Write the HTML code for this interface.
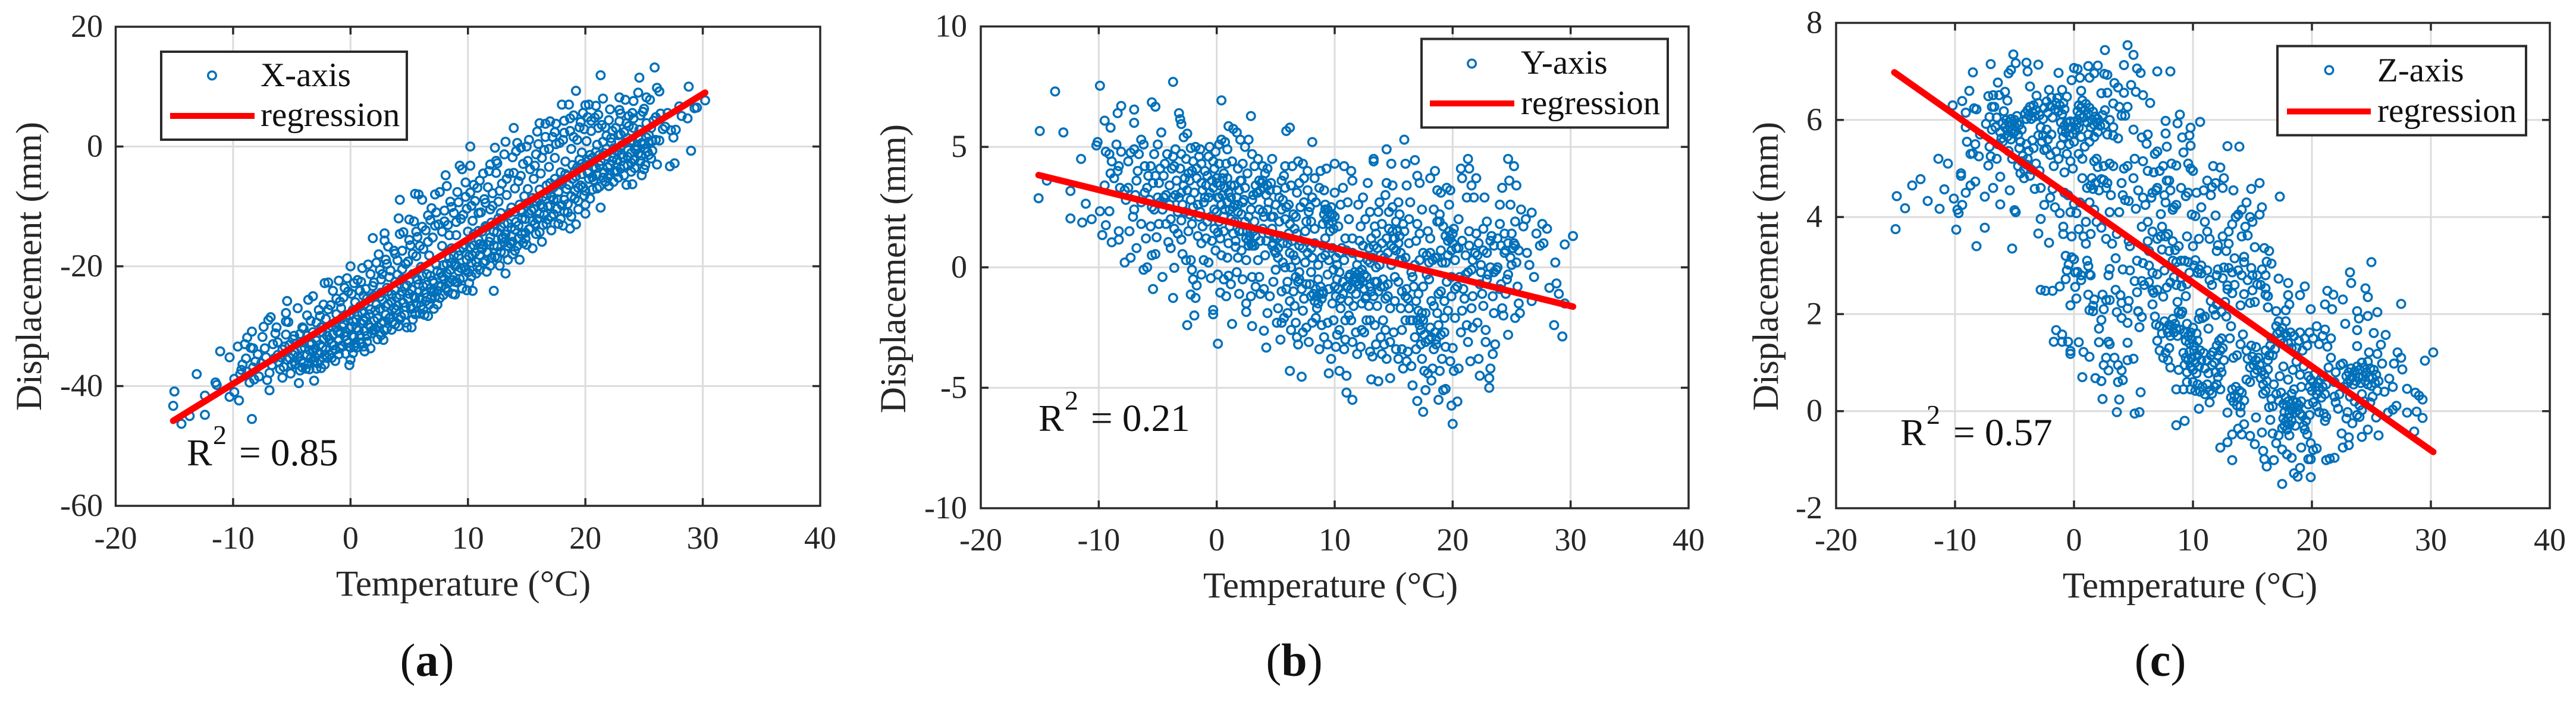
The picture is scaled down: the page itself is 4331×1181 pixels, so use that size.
<!DOCTYPE html>
<html lang="en">
<head>
<meta charset="utf-8">
<title>Displacement vs temperature</title>
<style>
html,body{margin:0;padding:0;background:#fff}
svg{display:block}
text{font-family:"Liberation Serif","Times New Roman",serif;fill:#262626}
</style>
</head>
<body>
<svg id="figure" xmlns="http://www.w3.org/2000/svg" width="4331" height="1181" viewBox="0 0 4331 1181"></svg>
<script>
const xTicks = [-20,-10,0,10,20,30,40];
const yTicksA = [-60,-40,-20,0,20];
const yTicksB = [-10,-5,0,5,10];
const yTicksC = [-2,0,2,4,6,8];
const regressionA = [[-15.1,-45.8],[30.2,9]];
const regressionB = [[-15.1,3.83],[30.2,-1.63]];
const regressionC = [[-15.1,6.98],[30.2,-0.84]];
const pointsA = [[-15,-40.9],[-15.1,-43.3],[-14.4,-46.3],[-13.7,-45],[-13.1,-38],[-12.4,-44.8],[-12.4,-41.6],[-11.5,-39.4],[-11.4,-39.8],[-11.1,-34.2],[-10.3,-35.2],[-10.3,-41.8],[-9.9,-41],[-9.5,-42.4],[-8.4,-45.5],[-9.6,-33.4],[-9.9,-38.8],[-9.4,-38],[-9.2,-36.4],[-9,-33],[-8.8,-31.9],[-8.9,-35.4],[-8.5,-33.6],[-8.4,-30.9],[-8.3,-33.7],[-8.6,-39.4],[-8.2,-38.9],[-8.3,-36.9],[-7.8,-38.4],[-7.9,-34.7],[-7.5,-31.8],[-7.4,-30.1],[-7.3,-33.7],[-7.1,-39],[-6.9,-40.7],[-7,-29],[-6.8,-28.5],[-6.7,-36.5],[-6.6,-33],[-6.4,-31.2],[-6.3,-30.2],[-6.2,-34.8],[-6,-37.2],[-5.8,-38.6],[-5.6,-33.4],[-5.5,-29.2],[-5.4,-25.8],[-5.5,-27.8],[-5.3,-29.3],[-5.2,-35.3],[-5.1,-37.9],[-4.9,-32.2],[-4.8,-35.9],[-4.7,-36.4],[-4.5,-27],[-4.4,-39.5],[-4.3,-31.3],[-4.2,-33.7],[-4.1,-36.9],[-4,-30.4],[-3.8,-37.1],[-3.7,-28.2],[-3.6,-25.6],[-3.5,-34],[-3.4,-35.4],[-3.3,-32.9],[-3.2,-25],[-3.1,-39.1],[-3.1,-35.9],[-3,-33.7],[-2.9,-29.4],[-2.8,-36.2],[-2.7,-27.3],[-2.6,-33.1],[-2.5,-37],[-2.4,-31],[-2.3,-26.4],[-2.2,-22.8],[-2.2,-34.8],[-2.1,-28.8],[-2,-35.3],[-1.9,-22.7],[-1.8,-32.2],[-1.7,-26.5],[-1.6,-30],[-1.5,-24.1],[-1.4,-33.2],[-1.3,-35.8],[-1.2,-28],[-1.1,-30.9],[-1,-22.4],[-0.9,-33.7],[-0.8,-27],[-0.7,-30.1],[-0.6,-25.2],[-0.5,-31.7],[-0.4,-28.3],[-0.3,-22],[-0.2,-32.8],[-0.1,-36.5],[0,-35.6],[0,-20],[0.1,-24.6],[0.1,-30.1],[0.2,-27.3],[0.3,-31.8],[0.3,-33.4],[0.4,-26],[0.5,-28.9],[0.6,-22.3],[0.7,-30.7],[0.8,-24.1],[0.9,-32.7],[1,-20.3],[1.1,-29.1],[1.2,-34.2],[1.2,-26.3],[1.3,-23.8],[1.4,-31.6],[1.5,-19.7],[1.6,-28],[1.7,-33.7],[1.8,-25.2],[1.9,-15.3],[1.9,-30.7],[2,-22.7],[2.1,-27.4],[2.2,-19.4],[2.3,-32.2],[2.4,-18],[2.5,-25.1],[2.6,-29.5],[2.7,-21.3],[2.8,-32.3],[2.9,-14.5],[2.9,-15.7],[3,-18.9],[3,-26.7],[3.1,-23.6],[3.2,-16.7],[3.3,-28.7],[3.4,-20.7],[3.5,-25.9],[3.6,-29.3],[3.7,-17.4],[3.8,-22.6],[3.9,-27.3],[4,-19],[4.1,-12],[4.2,-8.9],[4.2,-14.6],[4.2,-24.8],[4.3,-28.4],[4.4,-20.5],[4.5,-14.3],[4.6,-23.4],[4.7,-26.8],[4.8,-30.2],[4.9,-19.2],[5,-12.2],[5,-24.6],[5.1,-16.5],[5.2,-30.2],[5.2,-27.1],[5.3,-21.3],[5.4,-12.5],[5.5,-7.9],[5.5,-25.3],[5.6,-18.3],[5.7,-15.1],[5.8,-8],[5.8,-23],[5.9,-27.9],[6,-20.1],[6.1,-8.9],[6.2,-17.1],[6.3,-28.1],[6.3,-24.5],[6.4,-14],[6.5,-21.3],[6.6,-28.3],[6.6,-11.5],[6.7,-18.2],[6.8,-25.4],[6.9,-10.3],[7,-22.4],[7,-15.2],[7.1,-27.1],[7.2,-8],[7.3,-19.7],[7.4,-24.1],[7.5,-13],[7.6,-7.6],[7.7,-21.1],[7.8,-16.6],[7.9,-24.8],[8,-10.7],[8.1,-4.8],[8.2,-6.6],[8.2,-19.6],[8.3,-13.1],[8.4,-22.7],[8.5,-9.2],[8.6,-17],[8.7,-24.6],[8.8,-11.1],[8.9,-24.7],[8.9,-20],[9,-14.8],[9.1,-7.6],[9.2,-18.2],[9.3,-3.2],[9.3,-22.1],[9.4,-12.1],[9.5,-3.8],[9.6,-16.9],[9.7,-20.2],[9.8,-6],[9.9,-24],[9.9,-10.4],[10,-14.2],[10.1,-18.3],[10.2,-3.2],[10.2,0],[10.2,-7.7],[10.3,-21.7],[10.4,-24.1],[10.4,-12.4],[10.5,-16.5],[10.6,-9.1],[10.7,-19.3],[10.8,-6.9],[10.9,-14.1],[11,-20.6],[11.1,-11],[11.2,-17.1],[11.3,-4.5],[11.4,-8.8],[11.5,-13.3],[11.6,-20.9],[11.7,-6.8],[11.8,-15.9],[11.9,-3],[11.9,-10.5],[12,-18.6],[12.1,-7.8],[12.2,-24.1],[12.3,-0.2],[12.3,-13],[12.4,-4.4],[12.5,-2.8],[12.5,-16.7],[12.6,-9.2],[12.7,-19.9],[12.8,-11.1],[12.9,-6.2],[13,-15.1],[13.1,-17.8],[13.2,0.8],[13.2,-21.2],[13.3,-8.1],[13.4,-12.8],[13.5,-4.5],[13.6,-16.2],[13.7,-10.2],[13.8,-18],[13.9,3.1],[14,-7],[14,-13.9],[14.1,-0.8],[14.2,0.6],[14.2,-16.6],[14.3,-5.8],[14.4,-18.9],[14.5,-10.6],[14.6,-14.7],[14.7,-2.9],[14.8,-8.3],[14.9,-12.1],[15,0],[15,-16.4],[15.1,-7.1],[15.2,-13.8],[15.3,-3.8],[15.4,-10.7],[15.5,-17],[15.6,-5.4],[15.7,-12.9],[15.8,-1.3],[15.9,2.5],[16,-8.8],[16.1,3.9],[16.1,-14.3],[16.2,-4.5],[16.3,-15.9],[16.4,-10.2],[16.5,-0.6],[16.6,3.8],[16.7,-6.5],[16.8,-12.2],[16.9,-3.4],[17,4.2],[17.1,-14],[17.1,-8.4],[17.2,1.6],[17.3,-11.3],[17.4,-1.9],[17.5,3.8],[17.6,-6.3],[17.7,-12.9],[17.8,0.6],[17.9,-4.3],[18,7],[18,-9.8],[18.1,-13.2],[18.2,2.3],[18.3,-2.5],[18.4,-7.1],[18.5,-11],[18.6,7],[18.7,-13.7],[18.7,4.7],[18.8,-0.4],[18.9,-5.4],[19,1.6],[19.1,-8.7],[19.2,9.3],[19.2,-13],[19.3,-3.5],[19.4,-10.5],[19.5,3.2],[19.6,-6.5],[19.7,-1],[19.8,5.6],[19.9,-8.2],[20,6.9],[20,-11.2],[20.1,0.9],[20.2,-4.4],[20.3,7],[20.4,-8.7],[20.5,2.6],[20.6,-1.9],[20.7,-5.6],[20.8,4.8],[20.9,6.8],[21,-7],[21,0.3],[21.2,-3.1],[21.3,11.9],[21.3,-10.2],[21.4,3.6],[21.5,8],[21.6,-1.1],[21.7,-5.9],[21.8,1.8],[21.9,-3.5],[22,-6.6],[22.1,6.2],[22.2,0.7],[22.3,-2.4],[22.4,-5.9],[22.6,3.1],[22.7,-0.8],[22.8,1.9],[22.9,8.2],[23,-3.7],[23,5.5],[23.1,0.2],[23.2,-1.8],[23.3,2.4],[23.4,7.8],[23.5,-6.4],[23.6,-3.2],[23.7,5.1],[23.8,0.7],[23.9,-1.1],[24,-6.3],[24.1,7.6],[24.1,3.1],[24.2,-3.6],[24.3,-0.6],[24.5,9],[24.5,1.4],[24.6,11.5],[24.7,-2.4],[24.8,-4.8],[24.9,5.8],[25,0.4],[25.1,-3.1],[25.2,8.2],[25.2,3.9],[25.3,-0.9],[25.4,1.9],[25.5,7.8],[25.6,-2],[25.7,0.9],[25.8,4.3],[25.9,13.2],[26,1.1],[26.1,-3],[26.1,9.8],[26.3,9.2],[26.3,1],[26.4,5.5],[26.6,2.9],[26.8,3.3],[27,5.6],[27.2,-3.3],[27.3,2.7],[27.5,1.5],[27.6,-2.8],[27.7,2.8],[28,6.7],[28.2,5.1],[28.7,4.7],[28.8,10],[29,-0.7],[29.3,6.4],[29.5,6.5],[30.2,7.7],
[-6.1,-36],[-5.9,-35.2],[-5.7,-36.8],[-5.4,-35.6],[-5,-36.4],[-4.7,-34.4],[-4.5,-35.1],[-4.2,-35.8],[-4,-36.2],[-3.9,-33.6],[-3.7,-34.8],[-3.6,-36.3],[-3.4,-33.1],[-3.2,-34.3],[-3,-35.2],[-2.9,-32.4],[-2.7,-34.6],[-2.6,-35.7],[-2.4,-33.5],[-2.3,-32.2],[-2.1,-33.9],[-2,-31.6],[-1.8,-34.7],[-1.6,-32.9],[-1.5,-31.4],[-1.3,-33.9],[-1.2,-30.2],[-1,-32.4],[-0.9,-31.1],[-0.7,-33.2],[-0.6,-29.6],[-0.4,-31],[-0.3,-32.3],[-0.1,-30.3],[0,-33.6],[0.1,-31.6],[0.2,-29.2],[0.4,-32.8],[0.5,-30.3],[0.6,-28.1],[0.8,-31.6],[0.9,-29.5],[1,-27.8],[1.2,-30.8],[1.3,-28.6],[1.4,-32.6],[1.5,-29.7],[1.7,-27.2],[1.8,-31.2],[2,-29.1],[2.1,-30.6],[2.2,-26.4],[2.3,-28.7],[2.5,-27.1],[2.6,-31.5],[2.7,-25.6],[2.8,-29.2],[3,-28.1],[3.1,-30.4],[3.2,-26.3],[3.4,-28.5],[3.5,-24.7],[3.7,-27],[3.8,-29.7],[3.9,-25.2],[4,-26.6],[4.2,-28.9],[4.4,-24.2],[4.5,-26.1],[4.6,-28.1],[4.8,-23.2],[4.9,-25.4],[5.1,-26.7],[5.2,-23.9],[5.4,-25],[5.5,-28],[5.7,-22.2],[5.8,-24.3],[6,-26.6],[6.1,-21.6],[6.2,-23.4],[6.4,-25.8],[6.5,-23.1],[6.7,-26.4],[6.8,-21.6],[6.9,-24.2],[7.1,-22.8],[7.2,-25.1],[7.4,-20.8],[7.5,-23.3],[7.6,-25.3],[7.8,-21.7],[7.9,-19.8],[8.1,-23.6],[8.2,-21.2],[8.4,-18.6],[8.5,-20.6],[8.7,-22.3],[8.8,-18.2],[9,-19.8],[9.1,-22.7],[9.3,-17.4],[9.4,-20.3],[9.6,-21.9],[9.7,-16.4],[9.9,-18.9],[10,-21],[10.2,-16.8],[10.3,-19.4],[10.5,-14.6],[10.6,-17.7],[10.8,-20.1],[10.9,-15.6],[11,-18.1],[11.2,-14.2],[11.3,-16.4],[11.5,-19.1],[11.6,-13.4],[11.7,-17.7],[11.9,-15.2],[12,-12.7],[12.2,-16.5],[12.3,-18.4],[12.5,-14.3],[12.6,-12],[12.8,-17.6],[12.9,-15.4],[13.1,-12.9],[13.2,-14.7],[13.4,-16.6],[13.5,-11.1],[13.7,-13.5],[13.8,-15.9],[14,-10.9],[14.1,-12.6],[14.3,-15.4],[14.4,-9.7],[14.6,-12.1],[14.7,-16.1],[14.9,-14.4],[15,-9.5],[15.2,-11.2],[15.3,-13.7],[15.5,-8.6],[15.6,-10.4],[15.8,-14.6],[15.9,-12.1],[16.1,-7.2],[16.2,-9.7],[16.4,-13.1],[16.5,-11.4],[16.7,-7.9],[16.8,-10],[17,-6.1],[17.1,-11.7],[17.3,-8.9],[17.4,-5.4],[17.6,-10.4],[17.7,-7.6],[17.9,-12.1],[18,-6.2],[18.2,-8.9],[18.3,-4.6],[18.5,-9.6],[18.6,-6.4],[18.8,-11.7],[18.9,-3.1],[19.1,-7.4],[19.2,-5],[19.4,-9.1],[19.5,-2.2],[19.7,-4.6],[19.8,-6.8],[20,-9.7],[20.1,-3.1],[20.3,-5.4],[20.4,-1.4],[20.6,-7.2],[20.7,-3.4],[20.9,-0.9],[21,-4.8],[21.2,-6.7],[21.3,-2.4],[21.5,0.8],[21.6,-4.4],[21.8,-1.6],[21.9,-5.2],[22.1,-3.1],[22.2,1.4],[22.4,-0.3],[22.5,-4.1],[22.7,-2.2],[22.8,-5.2],[23,2],[23.1,-1.3],[23.3,-3.2],[23.4,0.6],[23.6,-1.7],[23.7,3.4],[23.9,-4.2],[24,1],[24.2,-2.1],[24.4,0.1],[24.6,2.8],[24.8,-1.5],[25,-3.8],[25.2,1.5],[25.4,-1.4],[25.6,3.1],[-4.8,-31.6],[-4.1,-30.2],[-3.4,-29.1],[-2.6,-28.3],[-1.9,-27.2],[-0.9,-25.9],[-0.2,-24.2],[0.9,-22.6],[1.7,-21.3],[2.5,-20.6],[3.1,-19.6],[3.8,-17.9],[4.4,-17.4],[5,-15.6],[5.6,-14.2],[6.1,-13.4],[6.8,-12.3],[7.3,-11],[8,-12.5],[8.6,-10.1],[9.2,-9.3],[9.8,-8.4],[10.5,-6.4],[11,-5.7],[11.8,-4.1],[12.4,-2.4],[13.1,-1.3],[13.8,-1.8],[14.5,-0.2],[15.2,1.1],[16,0.4],[16.6,1.6],[17.4,2.4],[18.2,4.3],[19,5.2],[19.6,4.1],[20.2,4.9],[21.1,5.3],[22,4.4],[22.9,6.1],[24,5.6],[25,6.3],[26,4.9],
[-9.3,-37.3],[-8.8,-37.6],[-8.1,-35.9],[-7.6,-36.2],[-7.2,-35.2],[-6.9,-37.8],[-6.5,-35.4],[-6.2,-32.7],[-5.8,-33.9],[-5.5,-31.4],[-5.2,-33.1],[-4.9,-34.8],[-4.6,-32.9],[-4.3,-37.4],[-4,-32.7],[-3.7,-31.6],[-3.5,-37.2],[-3.2,-31],[-2.9,-37.1],[-2.5,-30.2],[-2.2,-36.4],[-1.9,-30.3],[-1.6,-35.3],[-1.3,-29.4],[-1,-34.7],[-0.7,-28.6],[-0.4,-34.6],[-0.1,-28.2],[0.2,-34.5],[0.5,-33.6],[0.8,-26.7],[1.1,-33.4],[1.4,-25.4],[1.7,-30.2],[2,-24.9],[2.3,-30.1],[2.6,-24.4],[2.9,-30.7],[3.2,-24.2],[3.5,-30.6],[3.8,-24],[4.1,-30],[4.4,-22.1],[4.7,-29.4],[5,-22.4],[5.3,-28.9],[5.6,-26.2],[5.9,-25.3],[6.2,-27.2],[6.5,-25.2],[6.8,-23.7],[7.1,-24.3],[7.4,-26.4],[7.7,-23.4],[8,-22.1],[8.3,-24.2],[8.6,-19.4],[8.9,-22.6],[9.2,-20.8],[9.5,-23.7],[9.8,-20.6],[10.1,-22.8],[10.4,-18.2],[10.7,-21.2],[11,-16.3],[11.3,-19.4],[11.6,-17.6],[11.9,-19.9],[12.2,-14.2],[12.5,-18.6],[12.8,-13.4],[13.1,-16],[13.4,-18.9],[13.7,-15],[14,-17.4],[14.3,-13.2],[14.6,-11],[14.9,-15.4],[15.2,-9.6],[15.5,-12.4],[15.8,-9.2],[16.1,-11.2],[16.4,-8.4],[16.7,-12.9],[17,-9.9],[17.3,-6.8],[17.6,-8.8],[17.9,-5.8],[18.2,-10.8],[18.5,-4.9],[18.8,-8.3],[19.1,-4.1],[19.4,-6.9],[19.7,-2.9],[20,-7.4],[20.3,-2.2],[20.6,-5.1],[20.9,-3.6],[21.2,-1.4],[21.5,-5.2],[21.8,-0.4],[22.1,-4.6],[22.4,-1.8],[22.7,-4.2],[23,-0.2],[23.3,-4.8],[23.6,1.4],[23.9,-2.7],[24.2,-0.4],[24.5,-1.2],[24.8,0.6],[25.1,-0.3],[25.4,0.8],[25.7,-0.7],[-1.2,-25.4],[-0.5,-23.6],[0.3,-22.8],[1.1,-24.9],[1.9,-23.3],[2.6,-22.2],[3.3,-21.8],[4,-21.4],[4.7,-19.6],[5.3,-17.9],[5.9,-16.6],[6.6,-15.9],[7.2,-13.2],[7.8,-14.2],[8.4,-14.8],[9,-12.6],[9.6,-11.4],[10.3,-9.9],[10.9,-11.1],[11.5,-9.4],[12.1,-9.9],[12.7,-7.4],[13.3,-5.4],[13.9,-4.4],[14.5,-4.9],[15.1,-2.4],[15.7,-3.2],[16.3,-1.9],[16.9,-0.4],[17.5,0.4],[18.1,1.1],[18.7,2.6],[19.3,1.1],[19.9,2.9],[20.5,4.3],[21.1,3.1],[21.7,3.2],[22.3,2.6],[22.9,4.2],[23.5,3.9],[24.1,4.7],[24.7,5.2]];
const pointsB = [[-15,5.66],[-15.1,2.87],[-13.7,7.3],[-13,5.6],[-14.4,3.6],[-12.4,3.17],[-12.4,2.03],[-11.5,4.5],[-11.4,1.86],[-11.1,2.64],[-10.6,2],[-9.9,7.54],[-9.5,6.09],[-9,5.8],[-10.2,5.06],[-10.1,5.2],[-9.9,2.33],[-9.1,2.33],[-9.4,1.75],[-9.7,1.34],[-8.9,1.04],[-8.3,1.5],[-8.3,1.15],[-8.4,6.4],[-8.1,6.7],[-7,6.55],[-7,6],[-9.4,4.8],[-9.1,4.7],[-8.9,4.4],[-8.7,3.7],[-8.5,5.1],[-8.3,4.2],[-8.4,4],[-9,3.9],[-9.5,3.4],[-8.1,4.8],[-7.8,3.2],[-7.5,3.3],[-7.7,2.8],[-7.3,4.76],[-7,2.4],[-7.1,2.1],[-6.9,3],[-6.8,0.8],[-6.7,4],[-7.4,1.5],[-7.3,0.4],[-7.8,0.2],[-6.6,4.7],[-6.4,5.3],[-6.4,1.8],[-6.2,5.1],[-6.1,4.2],[-6,1.2],[-6.2,-0.1],[-5.9,0],[-5.9,3.3],[-5.7,2.8],[-5.6,4.2],[-5.6,1.7],[-5.5,2.5],[-5.5,0.5],[-5.4,-0.9],[-5.5,6.85],[-5.2,6.67],[-5.3,4.7],[-5.2,0.55],[-5.2,3.8],[-5.1,1.25],[-5,5.1],[-5,2.9],[-4.9,3.5],[-4.9,1.8],[-4.8,4.1],[-4.7,5.6],[-4.6,2.4],[-4.6,-0.4],[-4.5,3.8],[-4.3,1.8],[-4.2,4.7],[-4.1,1.05],[-4,3.4],[-3.9,0.8],[-3.7,7.7],[-3.7,4.6],[-3.7,2.9],[-3.7,-1.27],[-3.6,1.6],[-3.6,-0.02],[-3.5,4.9],[-3.4,3.6],[-3.3,2.3],[-3.2,6.4],[-3.1,6.15],[-3,5.95],[-3,4.7],[-3,3.1],[-3,1.95],[-3,1.15],[-2.9,0.55],[-2.8,5.4],[-2.7,3.7],[-2.7,2.3],[-2.6,0.3],[-2.5,5.55],[-2.4,3.9],[-2.4,1.5],[-2.5,-2.4],[-2.2,4.95],[-2.2,2.8],[-2.2,0.3],[-2.2,-1.13],[-2.1,4],[-2,2.5],[-2,-0.5],[-1.9,-2],[-1.8,5],[-1.8,-1.27],[-1.7,-0.75],[-1.7,3.7],[-1.6,1.3],[-1.5,4.6],[-1.5,2.1],[-1.4,4.9],[-1.3,1],[-1.2,3.2],[-1.1,0.3],[-1.1,2.7],[-1,4],[-0.9,3.4],[-0.8,1.9],[-0.7,2.9],[-0.6,5],[-0.5,-0.45],[-0.4,3.6],[-0.4,1.1],[-0.3,4.4],[-0.3,-1.77],[-0.3,-1.95],[-0.2,2.4],[-0.1,0.7],[0,3.5],[0.1,-0.3],[0.1,1.45],[0.1,-3.17],[0.2,4.3],[0.2,5.1],[0.2,2.9],[0.3,-1.05],[0.4,6.93],[0.4,5.3],[0.4,0.5],[0.5,3.7],[0.6,-0.5],[0.7,5.2],[0.7,2.4],[0.8,4.3],[0.9,3.7],[1,5.86],[1,1],[1,-0.35],[1.2,3.4],[1.2,-0.7],[1.3,-2.35],[1.4,5.75],[1.4,1.4],[1.5,2.6],[1.6,0.85],[1.7,5.6],[1.8,4.1],[1.8,2.3],[1.8,0.4],[1.9,-1.1],[2,5.3],[2,3.6],[2.2,1.5],[2.3,2.8],[2.4,5],[2.5,0.3],[2.5,-1.5],[2.5,-1.85],[2.6,3.9],[2.7,1.1],[2.7,5.3],[2.9,6.28],[2.9,2.4],[3,0.9],[3,-2.44],[3,-0.4],[3.2,4.2],[3.2,1.9],[3.3,-0.8],[3.4,3.1],[3.5,0.3],[3.5,4.5],[3.7,1.1],[3.7,-1.1],[3.8,3.5],[4,2.1],[4,-2.63],[4,-0.9],[4.1,0.5],[4.2,-3.33],[4.2,3],[4.3,4.1],[4.4,1.4],[4.5,-1.2],[4.6,3.5],[4.7,4.5],[4.7,0.9],[4.8,2.1],[5,-0.1],[5,2.6],[5.1,-2.3],[5.2,-1.7],[5.2,0.4],[5.4,-3],[5.4,1.3],[5.5,3.6],[5.5,-1],[5.7,-2.1],[5.8,4.2],[5.8,3.3],[5.8,0],[5.9,5.66],[6,1],[6,-0.6],[6.1,2.6],[6.2,5.8],[6.2,-4.3],[6.2,-1.4],[6.3,-2.6],[6.4,4.2],[6.5,0.5],[6.6,-1.6],[6.7,2.1],[6.8,3.1],[6.8,-2.9],[6.9,-3.2],[6.9,4.4],[7,0.9],[7,-0.5],[7.1,2.5],[7.2,-4.54],[7.3,-1.8],[7.3,4.3],[7.4,3.7],[7.5,1.5],[7.5,0.2],[7.6,-2.5],[7.7,4],[7.8,2.3],[7.9,-0.7],[8,-1.2],[8.1,5.2],[8.1,2.9],[8.1,-2.3],[8.3,1],[8.3,3.7],[8.5,-1.7],[8.6,0.1],[8.7,3.3],[8.7,-3.4],[8.8,4],[9,1.8],[9,-1.1],[9.1,-2.9],[9.2,2.4],[9.2,0.5],[9.3,4.1],[9.4,-2.3],[9.5,-0.9],[9.5,-4.4],[9.6,1.5],[9.7,-3.8],[9.8,2.2],[9.8,-1.5],[9.9,-0.1],[10,4.3],[10,3.1],[10.1,-3.3],[10.2,-2.8],[10.2,0.1],[10.3,1.7],[10.4,-4.3],[10.5,-1.7],[10.7,3.3],[10.8,-3.4],[10.8,4.2],[11,-5.2],[11,-4.5],[11,0.7],[11,-0.8],[11.2,2],[11.2,-2],[11.4,4],[11.5,-5.5],[11.5,-3.1],[11.5,3.6],[11.5,1.2],[11.7,-0.4],[11.8,-2.7],[11.9,0.1],[12,2.6],[12.1,-0.7],[12.1,1.1],[12.2,-3.3],[12.3,-1.5],[12.4,2.9],[12.5,-0.3],[12.6,2],[12.7,-2.2],[12.8,3.5],[12.9,0.8],[13,-3.5],[13.1,-4.65],[13.1,-1],[13.2,-3.7],[13.3,4.5],[13.3,4.4],[13.4,1.7],[13.5,0],[13.6,-0.6],[13.7,-4.73],[13.7,2.3],[13.9,-2.9],[14,1],[14.1,-2.2],[14.2,-3.2],[14.3,3],[14.4,4.9],[14.4,3.5],[14.4,-3.8],[14.5,0.6],[14.6,2.3],[14.7,-4.6],[14.7,-1.7],[14.8,4.3],[14.9,3.4],[15,1.2],[15,-2.7],[15.1,-0.4],[15.2,1.9],[15.4,2.7],[15.4,-3.8],[15.5,0.3],[15.6,-1.7],[15.8,-4.2],[15.9,5.3],[15.9,1.5],[16,4.3],[16,-2.2],[16.1,3.4],[16.1,-0.9],[16.2,-3.5],[16.4,2.7],[16.5,-4.1],[16.6,-4.9],[16.6,-2.2],[16.8,4.45],[16.8,0.1],[17,-5.55],[17,3.8],[17,1.8],[17.1,-1.1],[17.2,3.5],[17.3,-2.1],[17.4,-3.8],[17.4,2.4],[17.5,-6],[17.5,0.6],[17.6,-4.3],[17.7,-5.1],[17.7,-1.9],[17.9,1.5],[18,-3],[18,-0.5],[18.1,3.7],[18.1,-2.5],[18.2,-4.7],[18.3,-4.2],[18.4,2.4],[18.5,4],[18.5,0.4],[18.6,-3.2],[18.7,3.2],[18.8,-5.5],[18.8,-1.1],[18.9,1.9],[19,3.1],[19.1,-3.8],[19.2,-5.1],[19.3,-2.7],[19.4,-5.05],[19.4,0.2],[19.5,3.3],[19.6,-1.8],[19.7,2.6],[19.8,3.2],[19.8,-3.9],[19.9,-5.74],[20,-6.5],[20,-3.35],[20,1.4],[20.1,-4.3],[20.2,0.3],[20.4,-5.57],[20.4,-0.8],[20.5,-4.2],[20.5,2],[20.7,4.1],[20.8,3.7],[20.8,-1.8],[21,-1.3],[21.2,-2.4],[21.2,2.9],[21.3,4.5],[21.3,-3.1],[21.4,4.1],[21.5,-3.9],[21.6,3.4],[21.6,-0.1],[21.7,-2.5],[21.8,2.9],[21.9,0.6],[22,3.7],[22.2,-3.8],[22.2,1],[22.3,-4.5],[22.5,-1.1],[22.7,2.9],[22.8,-2.6],[22.8,-3.1],[22.9,1.9],[23,-0.3],[23.1,-5],[23.1,-4.6],[23.2,-4.2],[23.3,1.3],[23.4,-3.6],[23.5,-1.9],[23.6,-3.2],[23.8,0],[24,2.6],[24,1.8],[24.2,3.3],[24.2,-1.7],[24.3,-2],[24.5,0.7],[24.6,-0.5],[24.7,4.5],[24.7,-2.8],[24.8,3.6],[24.9,2.6],[25,1.4],[25.2,4.2],[25.2,1],[25.3,-2.1],[25.4,3.4],[25.4,0.2],[25.5,-0.8],[25.6,-1.5],[25.7,-1.9],[25.8,2.4],[26,1.7],[26.2,2],[26.3,0.6],[26.5,0.1],[26.7,2.27],[26.7,-1.4],[26.9,-0.4],[27.1,1.4],[27.4,0.9],[27.6,1.8],[27.7,1],[28,1.6],[28.2,-0.85],[28.6,-2.4],[28.7,0.2],[28.8,-0.67],[29,-1.1],[29.3,-2.87],[29.5,-1.5],[29.5,0.95],[30.2,1.3],
[-0.6,3.1],[-0.3,3.3],[0,3.7],[0.1,2.9],[0.3,3.4],[0.4,2.6],[0.5,3],[0.6,3.9],[0.7,3.3],[0.9,2.7],[1,3.1],[1.1,2.4],[1.2,2.9],[1.4,2.5],[1.5,3.4],[1.7,2.9],[1.8,2.6],[1.9,3.2],[2.1,2.2],[2.2,2.7],[2.4,1.9],[2.5,1.2],[2.7,0.9],[2.8,1.3],[2.9,1],[3.1,1.5],[3.2,0.9],[3.3,3.4],[3.5,3.1],[3.6,3.6],[3.7,3.2],[3.9,3.6],[4,3.3],[4.1,3.9],[4.3,3.4],[4.5,3.2],[4.6,2.1],[4.8,1],[4.9,0.7],[5.1,1.2],[5.2,0.8],[5.3,2.9],[5.5,2.4],[5.6,2.8],[5.8,2],[5.9,2.5],[6.1,1.4],[6.2,1.8],[6.4,1.1],[6.5,2.2],[6.6,1.6],[6.7,0.3],[6.9,-0.6],[7,-0.2],[7.2,-0.9],[7.3,0.8],[7.4,2.7],[7.6,1.9],[7.7,3.2],[7.9,2.5],[8,1.9],[8.1,0.4],[8.2,-1.1],[8.3,-1.4],[8.4,-0.9],[8.5,-1.2],[8.6,-1.5],[8.7,-1.1],[8.8,-0.8],[8.9,-1.3],[9,-1],[9.1,2.2],[9.2,2.6],[9.3,2],[9.4,2.4],[9.5,1.8],[9.6,2.2],[9.7,2.5],[9.8,1.9],[9.9,1.6],[10,2.1],[10,-0.8],[10.1,-1.2],[10.2,-0.5],[10.3,-0.9],[10.5,-1.3],[10.6,0.8],[10.7,-0.6],[10.8,0.3],[10.9,1.2],[11.1,-0.8],[11.2,-1.4],[11.3,-0.3],[11.4,-0.9],[11.6,-0.5],[11.7,-0.2],[11.8,-0.6],[11.9,-0.3],[12,-0.7],[12.1,-0.2],[12.2,-0.5],[12.3,-0.1],[12.4,-0.6],[12.5,-0.9],[12.6,-1.3],[12.7,-0.4],[12.8,0.3],[12.9,-1.6],[13,-0.8],[13.1,1.2],[13.2,0.4],[13.3,-1.2],[13.4,-0.6],[13.5,1.4],[13.6,0.8],[13.7,-1],[13.8,0.1],[13.9,-0.8],[14,1.8],[14.1,-0.5],[14.2,0.4],[14.3,-1.3],[14.4,1.2],[14.5,-0.7],[14.6,1.6],[14.8,0.9],[14.9,1.5],[15,0.8],[15.1,1.2],[15.2,0.7],[15.3,1.5],[15.4,1],[15.5,1.3],[15.6,0.6],[15.7,-1],[15.8,1.8],[16,0.4],[16.2,-1.3],[16.3,-1.7],[16.5,-0.2],[16.7,-0.8],[16.9,1.1],[17,-2.2],[17.1,-1.8],[17.2,-2.4],[17.3,-2.6],[17.4,-1.9],[17.5,-2.2],[17.6,-2.8],[17.7,-3.1],[17.8,0.5],[18,0.2],[18.1,0.6],[18.2,-2.9],[18.3,0.3],[18.4,-3.4],[18.5,-2.7],[18.6,-3],[18.7,0.4],[18.7,1.9],[18.8,-2.4],[18.9,2.2],[19,-1],[19,-2.8],[19.1,0.2],[19.2,1.7],[19.3,-1.4],[19.4,1.3],[19.5,-0.6],[19.6,1.1],[19.7,1.5],[19.8,1.2],[19.9,0.7],[20,1],[20.1,1.6],[20.3,0.8],[20.6,-0.4],[20.9,-0.9],[21.1,-0.3],[21.4,0.9],[21.7,0.3],[22.1,0.5],[22.4,-0.2],[22.6,0.7],[22.9,-0.5],[23.2,0],[23.5,-0.2],[23.7,-0.1],[24.1,0.9],[24.4,0.6],[24.7,1],[24.9,0.4],[25.1,0.8],[25.3,0.9],[-3.2,2.9],[-2.8,3.4],[-2.3,3.6],[-2,4.4],[-1.7,4.1],[-1.3,3.5],[-1,2.9],[-0.7,4.6],[-0.2,4.1],[0.2,1.9],[0.6,1.5],[1.1,1.7],[1.6,1.1],[2.1,0.7],[2.6,1.5],[-4.5,2.9],[-4,2.6],[-3.8,4.1],[-3.5,3],[-2.3,2.2],[-1.4,2.3],[-0.9,1.2],[3.1,3],[3.9,2.3],[4.3,2.4],[4.9,1.3],[5.6,0.2],[6.3,0],[6.7,-0.4],[7.6,-0.7],[8,0.8],[9,0.9],[9.4,-0.3],[10.4,0.6],[11.6,-1.6],[12.3,-2.6],[13.4,-2.4],[14.3,-2.6],[15.7,-2.6],[16.4,-2.2],[16.9,-3.4],[18.2,-1.4],[19.9,-1.2],[21.3,-0.2],[22.4,0.1],
[-8.2,3.3],[-6.8,3.6],[-6.4,2.7],[-6.1,3.1],[-5.3,2.4],[-4.8,2.7],[-4.3,3],[-3.9,2],[-3.3,1.4],[-2.9,2.6],[-2.5,3.2],[-2.1,1.8],[-1.9,3.1],[-1.6,2.6],[-1.2,1.7],[-0.8,3.8],[-0.5,2.1],[-0.2,1.6],[0,2.3],[0.3,1.2],[0.6,2.1],[0.9,0.4],[1.2,2],[1.5,1.9],[1.9,1.5],[2.1,3.6],[2.4,3.3],[2.7,2.1],[3,2.8],[3.3,1.3],[3.6,2.4],[3.9,1.6],[4.2,1.1],[4.4,2.7],[4.7,1.6],[5,0.6],[5.3,1.9],[5.6,1],[5.9,-0.9],[6.2,0.6],[6.5,-1],[6.8,1.4],[7.1,1.1],[7.4,-1.3],[7.7,0.6],[8,-0.2],[8.3,1.6],[8.6,-0.5],[8.9,0.4],[9.2,1.2],[9.5,0.3],[9.8,0.8],[10.1,0.4],[10.4,-0.2],[10.7,-1.1],[10.9,-2.2],[11.2,-0.4],[11.5,0.6],[11.8,-1.1],[12.1,0.4],[12.4,0.9],[12.7,-1.2],[13,0.2],[13.3,0.9],[13.6,-1.6],[13.9,0.5],[14.2,-0.8],[14.5,-1.2],[14.8,0.1],[15.1,-1.4],[15.4,-0.6],[15.7,0.3],[16,-1.2],[16.3,1],[16.6,-0.4],[16.9,-1.4],[17.2,0.3],[17.5,-0.8],[17.8,-0.3],[18.1,1.2],[18.4,-1.6],[18.7,-1.9],[19,0.7],[19.3,-2.1],[19.6,0.5],[19.9,-0.4],[20.2,-0.9],[20.5,0.8],[20.8,1.1],[21.1,0.5],[21.4,1.5],[21.7,-1.2],[22,1.4],[22.3,-0.7],[22.6,1.6],[22.9,0.6],[23.2,1.1],[23.5,0.9],[23.8,1.2],[24.1,-0.7],[24.4,1.4],[24.7,-0.3],[25,0.1],[25.3,1.9],[25.6,0.7],[-7.5,4.4],[-7,4.9],[-5.8,3.8],[-5.4,3.5],[-4.4,4.3],[-3.6,4.2],[-3.1,4.1],[-2.6,4.5],[-1.3,4.3],[-0.1,4.8],[0.9,4.9],[1.3,4.4],[2.2,4.3],[3,4.7],[3.9,4.2],[5.1,3.2],[5.7,3.8],[6.3,3.4],[7,3.5],[8.4,2.7],[9.1,3.2],[10.5,2.6],[11.1,2.7],[12.2,1.7],[13,2.3],[13.8,2.7],[14.9,2.5],[15.5,2.2],[16.3,2],[17.2,1.4],[-2.1,-0.1],[-1.3,-0.3],[-0.7,0.2],[0.8,-1.2],[1.7,-0.2],[2.2,-0.5],[2.9,-1.2],[3.6,-0.4],[4.3,-1.9],[4.8,-0.6],[5.5,-2.3],[6,-1.9],[6.7,-2.3],[7.3,-2.7],[7.8,-3.1],[8.4,-2.1],[8.9,-2.4],[9.4,-3.2],[9.9,-2.2],[10.4,-2.6],[10.9,-3],[11.4,-2.2],[11.9,-3.6],[12.5,-2.7],[13,-2.2],[13.5,-3.2],[14,-3.6],[14.7,-3.1],[15.2,-3.4],[15.7,-3.4],[16.1,-3.9],[16.8,-2.9],[17.3,-3.2],[17.9,-4.4],[18.9,-4.3],[19.4,-3.3],[20.2,-2.1],[20.7,-2.7],[21.6,-1.7],[22.1,-2.3],[22.6,-1.6],[23.4,-1.2],[24,-0.9],[24.5,-1.1]];
const pointsC = [[-15,3.75],[-14.9,4.43],[-14.2,4.18],[-13.6,4.65],[-12.9,4.78],[-12.3,4.33],[-11.4,5.2],[-11.3,4.17],[-10.9,4.57],[-10.6,5.1],[-10.1,4.38],[-9.9,3.74],[-9.8,4.15],[-9.7,4.08],[-9.5,4.9],[-9.5,4.85],[-9.4,4.25],[-9.1,4.5],[-8.7,4.65],[-8.2,3.4],[-8.3,4.73],[-7.5,3.78],[-7.5,4.42],[-6.8,4.6],[-6.2,4.26],[-5.4,4.55],[-5,4.14],[-4.9,4.1],[-5.2,3.35],
[-5.1,7.35],[-4.9,7.17],[-4,7.18],[-3,7.14],[-3.9,7],[-5.3,7.03],[-5.5,6.96],[-7,7.15],[-8.5,6.98],[-6.4,6.77],[-8.8,6.6],[-9.4,6.39],[-10.2,6.3],[-7.2,6.49],[-6.8,6.51],[-6.3,6.51],[-5.8,6.58],[-5.6,6.4],[-8.4,6.24],[-9.1,6.15],[-6.9,6.27],[-6.7,6.27],[-5.9,6.18],[-7.1,6.06],[-6.5,6.05],[-4.8,6.08],[-3.7,6.69],[-3.15,6.5],[-2.1,6.62],[-1,6.62],[-0.6,6.48],[-1.3,6.97],[0,7.07],[0.3,7.05],[1.2,7.11],[2,7.12],[-0.2,6.82],[0.5,6.87],[1.3,6.87],[1.7,6.96],[2.55,6.95],[2.8,6.93],[2.6,7.44],[4.5,7.54],[5,7.34],[4.2,7.13],[5.3,7.06],[5.6,6.97],[7,7],[8.1,7],[0.6,6.6],[3.4,6.76],[3.7,6.67],[4.2,6.56],[4.8,6.72],[5.2,6.58],[5.8,6.51],[6.4,6.35],[2.3,6.55],[2.8,6.56],[3.3,6.34],[3.8,6.27],[4.5,6.27],[4,6.09],[4.3,6.09],[3,6],[2.6,6.2],[8.9,6.11],[7.7,5.98],[8.7,5.93],[9.8,5.84],[5,5.8],[5.7,5.64],[6.2,5.7],[7.7,5.72],[6.1,5.51],
[-6,5.93],[-5.8,5.85],[-5.7,6],[-5.6,5.78],[-5.5,5.95],[-5.4,5.86],[-5.3,6.02],[-5.2,5.8],[-5.2,5.92],[-5.1,5.72],[-5,5.87],[-5,6],[-4.9,5.78],[-4.8,5.93],[-5.6,5.66],[-5.3,5.6],[-4.7,5.7],[-6.2,5.75],[-6.1,5.62],[-4.5,5.55],[-4.4,5.8],[-4.6,5.9],
[-4.1,6.13],[-4,6.02],[-3.9,6.2],[-3.8,6.1],[-3.7,6.27],[-3.6,6.02],[-3.5,6.16],[-3.4,6.3],[-3.3,6.07],[-3.2,6.2],[-3,6.35],[-2.9,6.1],[-2.8,5.85],[-2.6,6.02],[-2.5,6.25],[-2.3,6.38],[-2.2,6.15],[-2,6.28],[-1.9,6.46],[-1.8,6.05],[-1.6,6.22],[-1.5,6.35],[-1.4,6.45],[-1.3,6.18],[-1.2,6.3],[-1,6.12],[-0.9,6.35],[-0.8,6.22],[-2.3,5.8],
[-1.1,5.95],[-1,5.78],[-0.9,5.65],[-0.8,5.88],[-0.7,5.74],[-0.6,5.95],[-0.5,5.82],[-0.4,5.68],[-0.3,5.97],[-0.2,5.85],[-0.1,5.72],[0,5.96],[0.1,5.8],[0.2,5.9],[0.3,6],[0.4,5.84],[0.3,6.18],[0.4,6.3],[0.5,6.1],[0.6,6.25],[0.7,6.4],[0.8,6.05],[0.9,6.2],[1,6.33],[1.1,5.95],[1.2,6.12],[1.3,6.25],[1.4,5.85],[1.5,6],[1.6,6.17],[1.7,5.9],[1.8,6.07],[1.9,5.95],[2,6.02],[2,5.75],[1.7,5.65],[1.2,5.7],[0.6,5.65],[2.2,5.88],[2.4,6.1],[2.6,5.9],[0,5.55],[-0.4,5.5],[0.9,5.45],[1.3,5.55],[2.8,5.7],[3.3,5.68],[3.7,5.62],[3.3,5.85],
[-9.1,5.85],[-9,5.55],[-8.5,5.31],[-8.3,5.5],[-8.2,6.22],[-8,5.25],[-7.9,5.7],[-8.7,5.3],[-7.4,5.92],[-7.2,5.06],[-7.1,5.45],[-7,5.25],[-6.6,5.85],[-6.5,5.2],[-6.2,4.83],[-6,5.55],[-6.9,5.8],[-6.4,5.5],[-5.5,5.36],[-5.2,5.2],[-4.6,5.42],[-4.3,5.26],[-4.2,4.8],[-4,5.5],[-3.9,5.2],[-3.8,5.36],[-3.6,4.98],[-3.5,5.58],[-3.4,5.42],[-3.3,4.58],[-3.2,5.1],[-3,5.68],[-2.9,4.95],[-2.7,5.55],[-2.6,5.68],[-2.5,5.38],[-2.3,5.4],[-2.2,5.6],[-2,5.28],[-1.9,5.7],[-1.8,4.58],[-1.7,5.05],[-1.5,5.35],[-1.3,5.2],[-1.1,5.48],[-0.8,4.92],[-0.6,5.3],[-0.3,5.15],[-0.5,4.45],[-0.1,5],[0.4,5.3],[0.7,5.2],[0.7,4.8],
[-4.7,5.05],[-4.5,4.9],[-4.4,5.15],[-4.2,4.98],[-4,5.08],[-3.7,4.85],[-2.8,4.6],[-2.5,4.25],[-2.8,3.96],[-3,3.66],[-2.1,3.47],[-2.8,2.5],[-2.4,2.48],[-1.8,2.48],[-1.5,1.67],[-1,1.58],[-0.5,1.43],[-0.3,1.18],[0.4,1.42],[0.8,1.22],[1.8,0.68],[2.7,1.1],[3.7,0.95],[3.7,0.6],[3.8,0.24],[2.1,1.42],[5,1.08],[5.5,-0.02],
[-0.9,3.8],[-0.9,3.65],[-0.7,3.2],[-0.6,2.9],[-0.2,3.17],[0.1,2.56],[0.2,4.08],[0.6,2.7],[0.3,2.87],[0.6,2.8],[1,3.45],[1.1,3.1],[1.2,2.99],[1.4,2.8],[1.6,2.17],[1.7,2.3],[2.4,2.4],[2.5,2.1],[-2,4.4],[-1.6,4.2],[-1.2,4.08],[-0.8,4.5],[-0.3,4.1],[0,4.27],[0.5,4.3],[1,3.9],[1.4,3.65],[1.7,4.15],[2.1,4.55],[2.3,3.78],[2.7,4.6],[2.7,3.55],[3.1,4.45],[3.2,3.45],[1.9,3.9],[1.3,4.3],[0.8,3.6],[3,4.1],[3.6,3.65],[4,4.7],[3.8,4.1],[4.3,4.35],[4.6,4.33],[4.6,3.5],[4.7,3.4],[4.7,2.9],[5.1,5.2],[5.2,4.17],[5.3,3.1],[4.2,5],[4.5,5.05],[4.1,4.45],[3.3,5.05],[3,5.1],[2.5,5.05],[2.3,4.78],[2,5.03],[1.8,4.7],[5,4.8],[5.4,4.55],[5.7,3.8],[5.8,5.15],[5.8,4.4],[6,4.25],[6.2,3.5],[6.3,3.3],[6.5,4.4],[6.6,4.5],[6.7,4.92],[6.9,4.55],[7,4.6],[7.3,4.06],[7.4,3.33],[7.6,4.45],[7.7,4.3],[7.8,4.75],[7.9,3.65],[8.1,4.55],[8.3,4.15],[8.4,4.2],[8.6,5.06],[6.2,3.9],[6.6,3.7],[7,3.55],[7.4,3.8],[7.7,3.6],[8,3.3],[8.3,3.5],[8.5,3.32],[8.8,3.4],[9,3.1],[9.1,5.64],[9.2,5.33],[9.4,4.43],[9.5,3.6],[9.5,2.62],[9.7,5.68],[9.8,5.47],[10,4.95],[10,3.4],[10.3,4.5],[10.5,3.55],[10.6,5.96],[9.6,4.5],[9.9,4.05],[10.2,4.02],[10.7,4.2],[10.9,4.55],[11,3.9],[11.2,4.75],[11.2,3.7],[11.5,4.45],[11.9,4.03],[11.7,5.05],[11.6,4.62],[11.9,4.7],[12,3.3],[12.1,3.42],[12.3,5.02],[12.5,4.6],[12.6,4.8],[12.9,5.46],[13,3.45],[13.4,4.55],[13.6,4],[13.8,4.05],[14.1,3.6],[14.3,3.18],[14.6,3.62],[14.8,4],[15,3.9],[15.2,3.38],[15.6,4.05],[15.8,4.2],[16,3.36],[16.2,3.08],[16.4,3.3],[13.3,3.85],[13,3.7],[12.5,3.6],[12.8,3.3],[11.4,3.55],[14.1,4.15],[14.5,4.3],[14.9,4.58],[13.9,5.45],[14.4,3.8],[15.6,4.7],[17.3,4.42],
[5.4,2.05],[5.9,2.6],[6.3,3],[6.6,2.85],[7,2.5],[7.3,3.6],[7.6,2.9],[8.1,2.65],[8.6,2.6],[9,2.75],[8.7,2.25],[8.3,3.1],[9.3,3.1],[9.7,2.85],[10.1,3],[10.4,2.85],[10.7,3],[11.2,2.9],[11.6,2.6],[12,2.8],[12.7,2.25],[13,2.95],[13.5,2.6],[13.8,2.9],[14.1,2.8],[14.9,2.95],[15.4,2.8],[15.7,2.6],[16.1,2.4],
[-0.45,3.02],[0,3.13],[3.5,3.15],[1.3,2.82],[0.1,2.86],[-0.7,2.72],[-1.2,2.57],[2.9,2.8],[3,2.93],[4.1,2.92],[5.1,2.68],[5.7,2.68],[6.3,2.66],[7,2.82],[8.4,2.76],[5.8,3.05],[3.5,2.5],
[30.2,1.21],[29.5,1.04],[28,0.46],[28.7,0.38],[29,0.32],[29.3,0.24],[28,-0.03],[28.8,-0.01],[29.3,-0.14],[28.6,-0.42],[27.5,2.21],[25,3.07],[23.2,2.86],[23.3,2.64],[24.5,2.53],[24.7,2.35],[21.3,2.48],[21.8,2.4],[22.6,2.3],[21.1,2.2],[21.7,2.1],[23.8,2.06],[23.95,1.91],[24.7,1.96],[25.5,2.04],[22.8,1.8],[23.8,1.67],[25.2,1.61],[26.2,1.57],[25.8,1.37],[23.8,1.34],[27.2,1.21],[27.5,1.1],[26.9,0.98],[27.6,0.86],[25.5,1.18],[24.8,1.21],[25.9,0.98],[26.1,0.4],[26.8,0.5],[26.5,0.67],[27.1,0.11],[26.8,0.03],[26.4,-0.03],[25.4,-0.13],[24.7,-0.38],[25.6,-0.5],[24.2,-0.53],[23.1,-0.54],[23.1,-0.7],[22.6,-0.75],[22.5,-0.46],[21.9,-0.96],[21.5,-0.98],[21.2,-1.01],[19.9,-0.99],[19.9,-1.36],[19,-1.17],[18.5,-1.28],[18.8,-1.35],[17.5,-1.5],[16.2,-1.14],[16,-0.99],[16.8,-1.01],[13.3,-1.01],[12.3,-0.75],[12.9,-0.64],[13.3,-0.48],[14.1,-0.48],[14.8,-0.51],[15.2,-0.68],[15.9,-0.82],[17,-0.66],[17.5,-0.79],[17.9,-0.89],[18.3,-0.96],[19.1,-0.75],[19.9,-0.66],[20.4,-0.77],[20.1,-0.8],[19.7,-0.99],[19.6,-0.48],[18.1,-0.5],[17.2,-0.5],[16.7,-0.46],[15.8,-0.44],[14.3,-0.27],[13.8,-0.36],[15.3,-0.13],[14,-0.03],[12.9,-0.03],[11.4,0.18],[10.5,0.05],[9.3,-0.2],[8.6,-0.29],[5.1,-0.05],[3.6,-0.02],[2.4,0.25],[5.6,0.39],[2.3,0.62],[0.7,0.7],[4.1,0.64],[4,0.84],[2.9,0.84],[2.5,0.95],[4.5,1.05],[3.4,1.1],[1.3,1.12],[-0.3,1.24],[4.5,1.41],[2.9,1.43],[3,1.38],[-1,1.43],[-1.7,1.43],[2.1,1.7],[2.3,1.88],[1.3,2.08],[1.6,2.06],[-0.3,2.18],[0.2,2.32],[1.2,2.4],[2.7,2.29],[3,2.29],[3.9,2.39],[3.6,2.04],[4,1.92],[4.5,1.82],[5.4,2.06],[5.7,1.94],[5.5,1.73],[4,2.23],[4.6,2.27],[4.5,2.12],[5.3,2.45],[6.6,2.49],[6.6,2.2],[7.5,2.36],[9.4,2.37],[9.05,2.57],[7.8,2.55],[6.7,2.44],
[16.6,3.04],[17.2,2.73],[18,2.64],[19.4,2.57],[19,2.39],[18,2.39],[18.1,2.2],[19.9,2.1],[17.8,2.08],[17,2.06],[16.3,2.14],[16.3,2.37],[16.1,2.53],[14.6,2.7],[15.4,2.61],[16.1,2.8],[15.8,2.92],[15,2.8],[14.3,3.07],[13.5,3.15],[12.6,2.96],[12.1,2.92],[13.3,2.86],[12.5,2.74],[11.4,2.7],[10.5,2.92],[10.7,2.84],[9.6,3.07],[10.2,3.11],[8.6,3.07],[14.3,2.41],[15,2.49],[14.8,2.23],[15.2,2.25],[14,2.18],[12.9,2.59],[12.9,2.51],[13.3,2.43],[11.5,2.27],
[7.6,1.85],[7.8,1.7],[7.9,1.62],[8,1.78],[8.1,1.55],[8.2,1.75],[8.3,1.9],[8.4,1.62],[8.5,1.8],[8.6,1.7],[8.7,1.55],[8.8,2.05],[8.9,1.68],[9,2],[9.1,2.05],[7.4,1.6],[7.2,1.75],[7,1.45],[6.9,1.78],[7.2,1.25],[7.5,1.1],[7.7,1.2],[7.9,1.05],[8.1,0.9],[8,1.3],[6.8,1.95],
[9.3,1.62],[9.4,1.45],[9.5,1.8],[9.6,1.55],[9.7,1.4],[9.8,1.62],[9.9,1.48],[10,1.72],[10.1,1.35],[10.3,1.6],[10.4,1.45],[10.5,1.9],[10.6,2.02],[10.8,1.92],[11,1.95],[11.3,1.7],[11.7,2.1],[11.9,1.98],[12,2.2],[12.4,2.05],[12.8,1.95],
[9.2,1.2],[9.3,0.95],[9.4,1.1],[9.5,0.8],[9.6,1.05],[9.7,1.22],[9.8,0.92],[9.9,1.1],[10,0.85],[10.1,1.25],[10.2,1],[10.3,0.78],[10.4,1.15],[10.5,0.92],[10.6,1.25],[10.7,1.05],[10.9,1.2],[11,0.88],[11.2,1.05],[11.3,0.78],[11.5,1.15],[11.6,0.95],[11.7,1.22],[11.8,1],[11.9,0.8],[12,1.35],[12.1,1.15],[12.2,1.45],[12.3,1.25],[12.4,1.5],[12.5,1.3],[12.6,1.05],[12.1,0.7],[12.3,0.9],
[8.6,0.45],[9.2,0.45],[9.8,0.45],[10,0.6],[10.2,0.42],[10.4,0.55],[10.6,0.4],[10.8,0.5],[11,0.35],[11.2,0.55],[11.4,0.42],[11.6,0.36],[11.8,0.5],[12,0.55],[12.3,0.45],[9.5,0.6],[8.8,0.85],[12.4,0.8],
[13.3,0.45],[13.5,0.32],[13.6,0.5],[13.8,0.28],[13.9,0.42],[14.1,0.38],[14.3,0.22],[13.4,0.2],[13.2,0.28],[13.7,0.12],[14,0.1],[14.5,0.65],[14.8,0.6],
[14.6,1.08],[14.8,0.9],[15,1.12],[15.1,0.95],[15.2,0.78],[15.3,1.05],[15.4,0.85],[15.5,1.1],[15.6,0.95],[15.7,0.68],[15.8,0.82],[15.9,0.55],[16,0.75],[16.1,0.42],[16.2,0.62],[16.3,0.86],[15.9,0.36],[16.4,1.15],[16.1,1.25],[16.3,1.05],[16.5,1.35],[16.7,1.15],[16.9,1.28],[16.6,1.5],[15.3,1.32],[14.9,1.35],[14.5,1.25],[14.2,1.58],[14,1.38],[13.7,1.15],[13.4,1.1],[13.2,1.75],[13.1,1.5],
[17,1.75],[17.1,1.6],[17.2,1.85],[17.3,1.65],[17.4,1.5],[17.5,1.72],[17.6,1.4],[17.7,1.6],[17.8,1.85],[17.9,1.55],[18,1.4],[18.2,1.62],[18.3,1.3],[18.5,1.55],[18.7,1.3],[18.9,1.45],[19,1.62],[19.2,1.25],[19.4,1.5],[19.6,1.35],[19.8,1.62],[20.1,1.5],[20.4,1.75],[20.6,1.38],[20.9,1.55],[21.1,1.68],[21.3,1.33],[21.6,1.5],
[16.8,0.55],[16.6,0.25],[16.4,0.08],[16.5,-0.18],[16.7,0.1],[17,0.35],[17.2,0.22],[17.4,0.38],[17.6,0.15],[17.7,-0.02],[17.8,0.28],[17.9,0.1],[18,0.2],[18.1,-0.05],[18.2,0.15],[18.3,0.05],[18.4,0.22],[18.5,0.08],[18.6,-0.03],[18.7,0.18],[18.8,0.02],[18.9,0.12],[19,-0.05],[19.1,0.2],[19.2,-0.1],[18.3,0.36],[18.5,0.45],[17.6,-0.15],[17.7,-0.3],[17.8,-0.22],[17.9,-0.38],[18,-0.14],[18.1,-0.28],[17.5,-0.35],[18.3,-0.2],[18.6,-0.3],[19.3,-0.3],[19.5,-0.2],[19.4,-0.38],[19.7,0.14],[19.8,-0.08],[17.3,0.72],[17.6,0.92],[18,0.65],[18.4,0.85],[18.7,1.02],[19,0.75],[19.3,0.92],[19.1,0.5],
[19.7,0.72],[19.8,0.5],[19.9,0.65],[20,0.42],[20.1,0.6],[20.2,0.75],[20.3,0.5],[20.4,0.35],[20.5,0.58],[20.6,0.42],[20.7,0.65],[20.8,0.28],[20.9,0.5],[21,0.72],[21.1,0.35],[21.2,0.55],[20.1,0.18],[20.4,0.1],[20.6,-0.02],[21,-0.05],[21.2,-0.12],[21.1,-0.2],[21.4,0.9],[21.6,1.1],[21.9,0.6],[22,0.8],[22,0.18],[22.2,0.05],[21.9,0.3],[22.3,0.35],[22.4,0.95],[22.7,0.5],[22.6,0.98],
[22.9,0.72],[23,0.58],[23.1,0.8],[23.2,0.66],[23.3,0.88],[23.4,0.7],[23.5,0.55],[23.6,0.82],[23.7,0.62],[23.8,0.92],[23.9,0.7],[24,0.85],[24.1,0.58],[24.2,1],[24.3,0.72],[24.4,0.9],[24.5,0.62],[24.6,0.8],[24.7,0.55],[24.8,0.7],[24.9,0.88],[25,0.52],[25.1,0.68],[25.2,0.85],[25.3,0.58],[25.4,0.75],[25.5,0.42],[25.6,0.62],[24.2,0.35],[24,0.12],[23.8,-0.08],[24,-0.12],[24.2,0.02],[24.4,0.2],[23.6,0.2],[23.2,0.3],[23,-0.02],[23.4,-0.25],[22.9,-0.15],[25.1,0.3],[24.9,0.18],[24.7,1.02],
[-0.2,3.6],[0.4,3.75],[1.1,4.6],[1.5,4.8],[1.6,4.58],[1.4,4.65],[1.7,5.15],[1.9,5.2],[2.8,4.7],[2.5,4.76],[6.2,4.95],[6.8,5.3],[7,5.35],[7.2,4.95],[7.5,5.05],[8,4.75],[8.6,4.25],[9,4.6],[9.6,5.1],[9.8,5],[7.8,5.45],[8.2,5.1]];

const svgNS = 'http://www.w3.org/2000/svg';
const figure = document.getElementById('figure');
const AXIS_COLOR = '#2a2a2a';
const GRID_COLOR = '#dcdcdc';
const MARKER_COLOR = '#0070BA';
const RED = '#ff0000';

function make(tag, parent, attrs, text) {
  const el = document.createElementNS(svgNS, tag);
  for (const k in attrs) el.setAttribute(k, attrs[k]);
  if (text !== undefined) el.textContent = text;
  parent.appendChild(el);
  return el;
}

function drawPanel(cfg) {
  const g = make('g', figure, {});
  
  
  const xMin = cfg.xTicks[0], xMax = cfg.xTicks[cfg.xTicks.length - 1];
  const yMin = cfg.yTicks[0], yMax = cfg.yTicks[cfg.yTicks.length - 1];
  const xScale = v => cfg.left + (v - xMin) / (xMax - xMin) * (cfg.right - cfg.left);
  const yScale = v => cfg.bottom - (v - yMin) / (yMax - yMin) * (cfg.bottom - cfg.top);

  cfg.xTicks.forEach(t => {
    const px = xScale(t);
    if (t !== xMin && t !== xMax) {
      const grid = make('line', g, {x1: px, x2: px, y1: cfg.top, y2: cfg.bottom, stroke: GRID_COLOR, 'stroke-width': 3});
      
      
      const tick1 = make('line', g, {x1: px, x2: px, y1: cfg.top, y2: cfg.top + 13, stroke: AXIS_COLOR, 'stroke-width': 3.5});
      
      
      const tick2 = make('line', g, {x1: px, x2: px, y1: cfg.bottom - 13, y2: cfg.bottom, stroke: AXIS_COLOR, 'stroke-width': 3.5});
      
      
    }
    const lab = make('text', g, {x: px, y: cfg.xTickBase, 'font-size': 54, 'text-anchor': 'middle'}, String(t));
    
    
  });
  cfg.yTicks.forEach(t => {
    const py = yScale(t);
    if (t !== yMin && t !== yMax) {
      const grid = make('line', g, {x1: cfg.left, x2: cfg.right, y1: py, y2: py, stroke: GRID_COLOR, 'stroke-width': 3});
      
      
      const tick1 = make('line', g, {x1: cfg.left, x2: cfg.left + 13, y1: py, y2: py, stroke: AXIS_COLOR, 'stroke-width': 3.5});
      
      
      const tick2 = make('line', g, {x1: cfg.right - 13, x2: cfg.right, y1: py, y2: py, stroke: AXIS_COLOR, 'stroke-width': 3.5});
      
      
    }
    const lab = make('text', g, {x: cfg.yTickRight, y: py + 17, 'font-size': 54, 'text-anchor': 'end'}, String(t));
    
    
  });

  const frame = make('rect', g, {x: cfg.left, y: cfg.top, width: cfg.right - cfg.left, height: cfg.bottom - cfg.top, fill: 'none', stroke: AXIS_COLOR, 'stroke-width': 3.5});
  
  

  cfg.points.forEach(p => {
    const c = make('circle', g, {cx: xScale(p[0]), cy: yScale(p[1]), r: 6.8, fill: 'none', stroke: MARKER_COLOR, 'stroke-width': 3.4});
    
    
  });

  const reg = make('line', g, {x1: xScale(cfg.regression[0][0]), y1: yScale(cfg.regression[0][1]), x2: xScale(cfg.regression[1][0]), y2: yScale(cfg.regression[1][1]), stroke: RED, 'stroke-width': 11, 'stroke-linecap': 'round'});
  
  

  const xl = make('text', g, {x: cfg.xLabelX, y: cfg.xLabelY, 'font-size': 61, 'text-anchor': 'middle'}, 'Temperature (°C)');
  
  
  const yl = make('text', g, {x: 0, y: 0, 'font-size': 61, 'text-anchor': 'middle', transform: 'translate(' + cfg.yLabelX + ',' + cfg.yLabelY + ') rotate(-90)'}, 'Displacement (mm)');
  
  

  const lg = make('g', g, {});
  
  
  const L = cfg.legend;
  make('rect', lg, {x: L.x, y: L.y, width: L.w, height: L.h, fill: '#fff', stroke: AXIS_COLOR, 'stroke-width': 4});
  const lm = make('circle', lg, {cx: L.markerX, cy: L.markerY, r: 6.8, fill: 'none', stroke: MARKER_COLOR, 'stroke-width': 3.4});
  
  
  const ll = make('line', lg, {x1: L.lineX1, x2: L.lineX2, y1: L.lineY, y2: L.lineY, stroke: RED, 'stroke-width': 10});
  
  
  const t1 = make('text', lg, {x: L.textX, y: L.base1, 'font-size': 57, style: 'fill:#111'}, cfg.legendLabel);
  
  
  const t2 = make('text', lg, {x: L.textX, y: L.base2, 'font-size': 57, style: 'fill:#111'}, 'regression');
  
  

  const r1 = make('text', g, {x: cfg.rX, y: cfg.rY, 'font-size': 64, style: 'fill:#111'}, 'R');
  
  
  const r2 = make('text', g, {x: cfg.rX + 44, y: cfg.rY - 36, 'font-size': 46, style: 'fill:#111'}, '2');
  
  
  const r3 = make('text', g, {x: cfg.rEqX, y: cfg.rY, 'font-size': 65, style: 'fill:#111'}, cfg.rText);
  
  

  const cap = make('text', g, {x: cfg.captionX, y: 1137, 'font-size': 78, 'text-anchor': 'middle', style: 'fill:#111'});
  
  
  make('tspan', cap, {}, '(');
  make('tspan', cap, {'font-weight': 'bold'}, cfg.captionLetter);
  make('tspan', cap, {}, ')');
}

drawPanel({id: 'x-axis', left: 194.5, right: 1379, top: 45, bottom: 851, xTicks, yTicks: yTicksA, points: pointsA, regression: regressionA,
  xTickBase: 923, yTickRight: 173, xLabelX: 779, xLabelY: 1002, yLabelX: 69, yLabelY: 448, legendLabel: 'X-axis',
  legend: {x: 271, y: 87, w: 413, h: 148, markerX: 356.5, markerY: 127, lineX1: 286, lineX2: 428, lineY: 195, textX: 438, base1: 145, base2: 212},
  rX: 314, rY: 783, rEqX: 402, rText: '= 0.85', captionX: 718, captionLetter: 'a'});
drawPanel({id: 'y-axis', left: 1649, right: 2839, top: 44.5, bottom: 855, xTicks, yTicks: yTicksB, points: pointsB, regression: regressionB,
  xTickBase: 926, yTickRight: 1626, xLabelX: 2237, xLabelY: 1005, yLabelX: 1522, yLabelY: 452, legendLabel: 'Y-axis',
  legend: {x: 2390, y: 65.5, w: 414, h: 149, markerX: 2474.6, markerY: 107, lineX1: 2404, lineX2: 2546, lineY: 174, textX: 2557, base1: 124, base2: 192},
  rX: 1746, rY: 725, rEqX: 1834, rText: '= 0.21', captionX: 2176, captionLetter: 'b'});
drawPanel({id: 'z-axis', left: 3087, right: 4287, top: 38.5, bottom: 855, xTicks, yTicks: yTicksC, points: pointsC, regression: regressionC,
  xTickBase: 926, yTickRight: 3064, xLabelX: 3682, xLabelY: 1005, yLabelX: 2989, yLabelY: 448, legendLabel: 'Z-axis',
  legend: {x: 3829, y: 77.5, w: 418, h: 150, markerX: 3916, markerY: 118, lineX1: 3845, lineX2: 3986, lineY: 187.5, textX: 3997, base1: 137, base2: 205},
  rX: 3195, rY: 749, rEqX: 3284, rText: '= 0.57', captionX: 3632, captionLetter: 'c'});
</script>
</body>
</html>
